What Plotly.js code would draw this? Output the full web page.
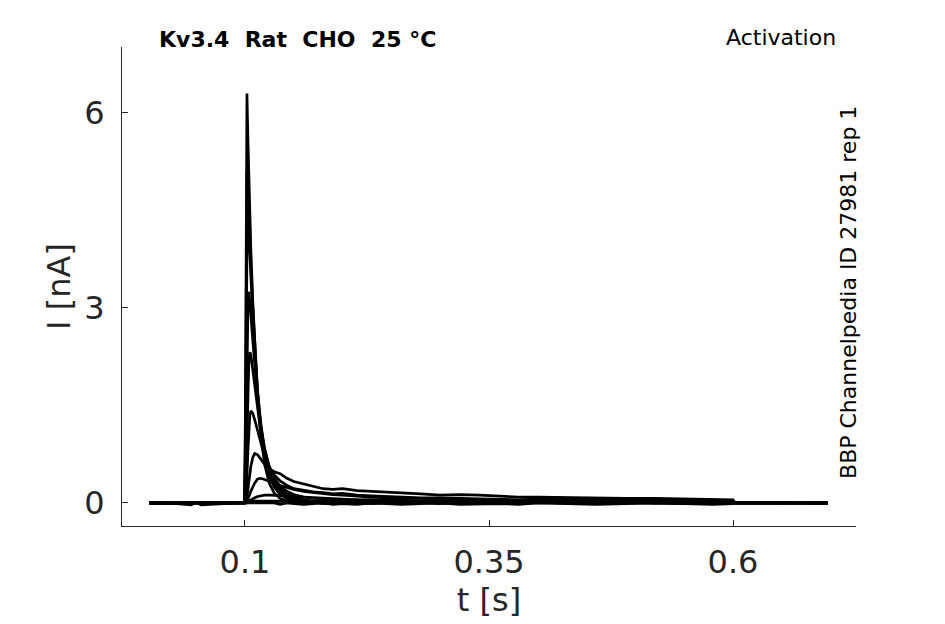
<!DOCTYPE html>
<html>
<head>
<meta charset="utf-8">
<script src="https://cdn.plot.ly/plotly-3.0.1.min.js"></script>
<style>
  body { margin: 0; background: #fff; }
  #myDiv { width: 945px; height: 624px; }
</style>
</head>
<body>
<div id="myDiv"></div>
<script>
// sample times [s], shared by every sweep
var t = [0.002, 0.03, 0.045, 0.05, 0.055, 0.08, 0.0995,
  0.1005, 0.101, 0.102, 0.103, 0.104, 0.105, 0.106, 0.108, 0.110, 0.113, 0.116, 0.120, 0.125, 0.130, 0.136, 0.143, 0.150,
  0.160, 0.170, 0.180, 0.190, 0.200, 0.215, 0.230, 0.245, 0.260, 0.280, 0.300, 0.320, 0.340, 0.360, 0.380, 0.400,
  0.430, 0.460, 0.490, 0.520, 0.550, 0.580, 0.600,
  0.602, 0.697];

// current [nA] for each activation sweep
var sweepA = [0, 0, 0, 0, 0, 0, 0,
  1.5, 4.0, 6.3, 5.6, 5.0, 4.4, 3.9, 3.1, 2.4, 1.6, 1.1, 0.6, 0.3, 0.15, 0.07, 0.03, 0.01,
  0, 0.01, -0.01, 0, 0.01, 0, -0.01, 0, 0.01, 0, -0.01, 0, 0.01, 0, 0, -0.01, 0, 0.01, 0, 0, -0.01, 0, 0,
  0, 0];
var sweepB = [0, 0, 0, 0, 0, 0, 0,
  1.0, 3.0, 5.1, 5.1, 4.6, 4.1, 3.7, 3.0, 2.4, 1.7, 1.2, 0.75, 0.42, 0.24, 0.13, 0.07, 0.04,
  0.02, 0.01, 0.02, 0, 0.01, 0.02, 0, 0.01, 0, 0.02, 0.01, 0, 0.01, 0.02, 0, 0.01, 0, 0.01, 0.02, 0, 0.01, 0, 0.01,
  0, 0];
var sweepC = [0, 0, 0, 0, 0, 0, 0,
  0.6, 2.0, 3.9, 4.4, 4.1, 3.8, 3.4, 2.8, 2.3, 1.7, 1.25, 0.8, 0.48, 0.3, 0.18, 0.1, 0.06,
  0.03, 0.02, 0.03, 0.01, 0.02, 0.03, 0.01, 0.02, 0.03, 0.01, 0.02, 0.02, 0.01, 0.03, 0.02, 0.01, 0.02, 0.01, 0.02, 0.01, 0.02, 0.01, 0.02,
  0, 0];
var sweepD = [0, 0, 0, 0, 0, 0, 0,
  0.3, 1.0, 2.3, 3.0, 3.25, 3.1, 2.9, 2.5, 2.1, 1.6, 1.2, 0.85, 0.55, 0.36, 0.23, 0.14, 0.09,
  0.05, 0.03, 0.04, 0.02, 0.03, 0.02, 0.03, 0.01, 0.02, 0.03, 0.01, 0.02, 0.01, 0.02, 0.02, 0.01, 0.02, 0.01, 0.01, 0.02, 0.01, 0.01, 0.02,
  0, 0];
var sweepE = [0, 0, 0, 0, 0, 0, 0,
  0.1, 0.4, 1.1, 1.8, 2.2, 2.32, 2.28, 2.05, 1.8, 1.42, 1.1, 0.8, 0.55, 0.38, 0.26, 0.18, 0.13,
  0.09, 0.07, 0.06, 0.05, 0.05, 0.04, 0.05, 0.03, 0.04, 0.03, 0.04, 0.02, 0.03, 0.03, 0.02, 0.03, 0.02, 0.03, 0.02, 0.02, 0.03, 0.02, 0.02,
  0, 0];
var sweepF = [0, 0, 0, 0, 0, 0, 0,
  0.03, 0.12, 0.4, 0.8, 1.15, 1.35, 1.42, 1.38, 1.28, 1.1, 0.92, 0.72, 0.55, 0.43, 0.34, 0.27, 0.22,
  0.19, 0.17, 0.16, 0.14, 0.15, 0.12, 0.11, 0.1, 0.09, 0.08, 0.08, 0.07, 0.06, 0.06, 0.05, 0.06, 0.05, 0.04, 0.05, 0.04, 0.04, 0.03, 0.04,
  0, 0];
var sweepG = [0, 0, 0, 0, 0, 0, 0,
  0.01, 0.03, 0.1, 0.2, 0.33, 0.45, 0.56, 0.7, 0.76, 0.74, 0.68, 0.6, 0.53, 0.48, 0.45, 0.38, 0.33,
  0.29, 0.26, 0.22, 0.21, 0.22, 0.19, 0.18, 0.17, 0.15, 0.14, 0.12, 0.13, 0.12, 0.1, 0.09, 0.09, 0.08, 0.08, 0.07, 0.07, 0.06, 0.06, 0.05,
  0, 0];
var sweepH = [0, 0, 0, 0, 0, 0, 0,
  0, 0.01, 0.03, 0.06, 0.1, 0.14, 0.18, 0.25, 0.31, 0.37, 0.38, 0.36, 0.33, 0.3, 0.27, 0.24, 0.21,
  0.18, 0.16, 0.14, 0.13, 0.12, 0.1, 0.09, 0.08, 0.08, 0.07, 0.06, 0.06, 0.05, 0.05, 0.04, 0.05, 0.04, 0.04, 0.03, 0.04, 0.03, 0.03, 0.03,
  0, 0];
var sweepI = [0, -0.01, -0.03, 0.01, -0.03, -0.01, 0,
  0, 0, 0.01, 0.02, 0.03, 0.04, 0.05, 0.07, 0.08, 0.1, 0.11, 0.12, 0.12, 0.12, 0.11, 0.11, 0.1,
  0.09, 0.08, 0.07, 0.07, 0.06, 0.05, 0.05, 0.04, 0.04, 0.03, 0.03, 0.03, 0.02, 0.03, 0.02, 0.02, 0.02, 0.01, 0.02, 0.01, 0.02, 0.01, 0.01,
  0, 0];
var sweepJ = [0, 0, -0.01, 0, 0, 0, 0,
  0, 0, 0, 0.01, 0.01, 0.02, 0.02, 0.03, 0.03, 0.04, 0.04, 0.04, 0.04, 0.04, 0.04, 0.04, 0.04,
  0.03, 0.04, 0.03, 0.04, 0.03, 0.03, 0.02, 0.03, 0.03, 0.02, 0.03, 0.02, 0.02, 0.03, 0.02, 0.02, 0.01, 0.02, 0.02, 0.01, 0.02, 0.01, 0.01,
  0, 0];
var sweepK = [0, 0, 0, 0, 0, 0, 0,
  0, 0, -0.01, 0, -0.01, 0, 0, -0.01, 0, -0.01, 0, 0, -0.01, 0, -0.02, 0, -0.01,
  -0.02, -0.01, 0, -0.02, -0.01, -0.02, 0, -0.01, -0.02, -0.01, 0, -0.02, -0.01, -0.01, -0.02, 0, -0.01, -0.02, -0.01, 0, -0.01, -0.02, -0.01,
  0, 0];
var sweepL = [0, 0, 0, 0, 0, 0, 0,
  0, 0.01, 0, 0.01, 0.02, 0.01, 0.02, 0.01, 0.02, 0.01, 0.02, 0.01, 0.02, 0.01, 0.03, 0.02, 0.01,
  0.02, 0.03, 0.01, 0.02, 0.04, 0.01, 0.02, 0.03, 0.02, 0.01, 0.02, 0.03, 0.01, 0.02, 0.01, 0.02, 0.03, 0.01, 0.01, 0.02, 0.01, 0.01, 0.02,
  0, 0];

var sweeps = [sweepL, sweepK, sweepJ, sweepI, sweepH, sweepG, sweepF, sweepE, sweepD, sweepC, sweepB, sweepA];

var xTicks = [0.1, 0.35, 0.6];
var xTickText = ['0.1', '0.35', '0.6'];
var yTicks = [0, 3, 6];
var yTickText = ['0', '3', '6'];

var axisColor = '#262626';
var font = 'DejaVu Sans, sans-serif';

var data = [];
for (let index = 0; index < sweeps.length; index++) {
  data.push({
    x: t,
    y: sweeps[index],
    type: 'scatter',
    mode: 'lines',
    line: {color: '#000000', width: 2.7},
    hoverinfo: 'skip'
  });
}

var layout = {
  width: 945,
  height: 624,
  showlegend: false,
  paper_bgcolor: '#ffffff',
  plot_bgcolor: '#ffffff',
  margin: {l: 122, r: 89, t: 47, b: 98},
  font: {family: font, color: axisColor},
  xaxis: {
    range: [-0.026, 0.726],
    tickvals: xTicks,
    ticktext: xTickText,
    ticks: 'inside',
    ticklen: 6,
    tickwidth: 1,
    tickcolor: axisColor,
    showline: true,
    linecolor: axisColor,
    linewidth: 1,
    showgrid: false,
    zeroline: false,
    ticklabelstandoff: 8,
    tickfont: {family: font, size: 32, color: axisColor},
    title: {text: 't [s]', font: {family: font, size: 32, color: axisColor}, standoff: 8}
  },
  yaxis: {
    range: [-0.354, 7.015],
    tickvals: yTicks,
    ticktext: yTickText,
    ticks: 'inside',
    ticklen: 6,
    tickwidth: 1,
    tickcolor: axisColor,
    showline: true,
    linecolor: axisColor,
    linewidth: 1,
    showgrid: false,
    zeroline: false,
    ticklabelstandoff: 10,
    tickfont: {family: font, size: 32, color: axisColor},
    title: {text: 'I [nA]', font: {family: font, size: 32, color: axisColor}, standoff: 4}
  },
  annotations: [
    {
      text: '<b>Kv3.4  Rat  CHO  25 °C</b>',
      xref: 'paper', yref: 'paper', x: 0.048, y: 1.015,
      xanchor: 'left', yanchor: 'middle', showarrow: false,
      font: {family: font, size: 22, color: '#000000'}
    },
    {
      text: 'Activation',
      xref: 'paper', yref: 'paper', x: 0.9755, y: 1.019,
      xanchor: 'right', yanchor: 'middle', showarrow: false,
      font: {family: font, size: 22, color: '#000000'}
    },
    {
      text: 'BBP Channelpedia ID 27981 rep 1',
      xref: 'paper', yref: 'paper', x: 0.989, y: 0.4885,
      xanchor: 'center', yanchor: 'middle', showarrow: false, textangle: -90,
      font: {family: font, size: 22, color: '#000000'}
    }
  ]
};

Plotly.newPlot('myDiv', data, layout, {displayModeBar: false, staticPlot: true});
</script>
</body>
</html>
